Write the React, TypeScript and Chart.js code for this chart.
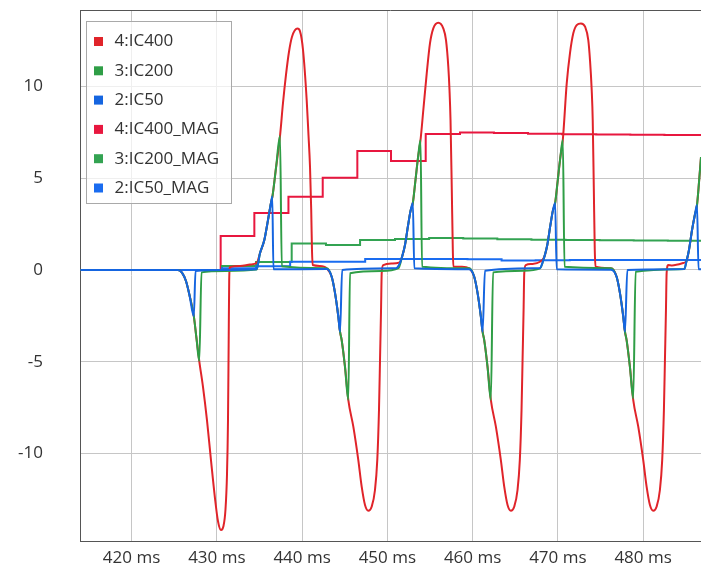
import React, { useEffect, useRef } from 'react';
import { Chart, registerables } from 'chart.js';

Chart.register(...registerables);

// Visible window of the capture (ms) and current range (A)
const X_MIN = 413.95;
const X_MAX = 486.79;
const Y_MIN = -14.77;
const Y_MAX = 14.17;

// Raw phase currents: [time ms, current A]
const ic400: [number, number][] = [
  [414.0, 0], [425.44, 0], [425.91, -0.14], [426.38, -0.6], [426.79, -1.36], [427.3, -2.51],
  [427.61, -3.71], [427.94, -4.96], [428.38, -6.38], [428.84, -8.17], [429.31, -10.35],
  [429.78, -12.43], [430.13, -13.68], [430.49, -14.17], [430.78, -13.95], [431.01, -13.08],
  [431.19, -11.17], [431.31, -8.17], [431.39, -3.81], [431.45, -0.54], [431.54, 0.16],
  [432.72, 0.22], [433.89, 0.3], [434.71, 0.41], [435.06, 0.91], [435.57, 1.63], [436.0, 2.72],
  [436.35, 3.65], [436.53, 4.03], [436.94, 5.56], [437.41, 7.3], [437.76, 9.1], [438.11, 10.63],
  [438.46, 11.88], [438.81, 12.7], [439.46, 13.16], [439.75, 13.02], [440.11, 11.99],
  [440.54, 9.26], [440.75, 7.36], [440.93, 5.61], [441.07, 3.27], [441.16, 1.09], [441.24, 0.27],
  [442.1, 0.22], [442.89, 0.09],
  [443.47, -0.37], [443.86, -1.25], [444.25, -2.54], [444.45, -3.36], [444.64, -3.81],
  [445.03, -5.27], [445.42, -7.08], [446.01, -8.54], [446.59, -10.35], [446.99, -11.81],
  [447.38, -12.81], [447.77, -13.12], [448.16, -12.9], [448.55, -11.99], [448.82, -10.35],
  [449.02, -7.63], [449.14, -4.9], [449.26, -2.18], [449.34, -0.16], [449.52, 0.27],
  [450.54, 0.35], [451.37, 0.4],
  [451.72, 0.71], [452.07, 1.36], [452.42, 2.4], [452.72, 3.22], [452.99, 3.65], [453.3, 4.9],
  [453.59, 6.1], [453.89, 7.08], [454.22, 8.72], [454.62, 10.72], [455.0, 12.35], [455.39, 13.17],
  [455.98, 13.48], [456.56, 13.17], [456.88, 12.53], [457.15, 11.08], [457.29, 9.81],
  [457.41, 8.17], [457.56, 4.36], [457.68, 1.09], [457.74, 0.18], [458.76, 0.18], [459.6, 0.09],
  [460.19, -0.37], [460.58, -1.25], [460.97, -2.54], [461.17, -3.36], [461.36, -3.81],
  [461.75, -5.27], [462.14, -7.08], [462.73, -8.54], [463.31, -10.35], [463.71, -11.81],
  [464.1, -12.81], [464.49, -13.12], [464.88, -12.9], [465.27, -11.99], [465.54, -10.35],
  [465.74, -7.63], [465.86, -4.9], [465.98, -2.18], [466.06, -0.16], [466.24, 0.27],
  [466.97, 0.33], [467.91, 0.45],
  [468.41, 0.71], [468.76, 1.36], [469.11, 2.4], [469.41, 3.22], [469.68, 3.65], [469.99, 4.9],
  [470.28, 6.1], [470.58, 7.08], [471.04, 10.17], [471.42, 11.81], [471.81, 12.9], [472.21, 13.35],
  [472.71, 13.44], [473.19, 13.26], [473.57, 12.53], [473.77, 11.44], [473.97, 9.81],
  [474.09, 8.17], [474.22, 4.36], [474.33, 1.09], [474.42, 0.18], [476.23, 0.1],
  [476.89, -0.37], [477.28, -1.25], [477.67, -2.54], [477.87, -3.36], [478.06, -3.81],
  [478.45, -5.27], [478.84, -7.08], [479.43, -8.54], [480.01, -10.35], [480.41, -11.81],
  [480.8, -12.81], [481.19, -13.12], [481.58, -12.9], [481.97, -11.99], [482.24, -10.35],
  [482.44, -7.63], [482.56, -4.9], [482.68, -2.18], [482.76, -0.16], [482.94, 0.27],
  [483.39, 0.25], [484.71, 0.38],
  [485.09, 0.49], [485.38, 1.09], [485.74, 2.18], [486.09, 3.05], [486.32, 3.54], [486.56, 4.8],
  [486.79, 6.16], [487.03, 7.36], [487.3, 8.7],
];

const ic200: [number, number][] = [
  [414.0, 0], [425.44, 0], [425.91, -0.14], [426.38, -0.6], [426.79, -1.36], [427.3, -2.51],
  [427.61, -3.71], [427.94, -4.96], [428.2, -0.13], [431.0, -0.05], [434.67, 0.02],
  [435.06, 0.91], [435.57, 1.63], [436.0, 2.72], [436.35, 3.65], [436.53, 4.03], [436.94, 5.56],
  [437.41, 7.3], [437.62, 0.2], [442.89, 0.09],
  [443.47, -0.37], [443.86, -1.25], [444.25, -2.54], [444.45, -3.36], [444.64, -3.81],
  [445.03, -5.27], [445.42, -7.08], [445.62, -0.18], [449.34, -0.05], [451.3, 0.1],
  [451.72, 0.71], [452.07, 1.36], [452.42, 2.4], [452.72, 3.22], [452.99, 3.65], [453.3, 4.9],
  [453.59, 6.1], [453.89, 7.08], [454.07, 0.18], [459.6, 0.09],
  [460.19, -0.37], [460.58, -1.25], [460.97, -2.54], [461.17, -3.36], [461.36, -3.81],
  [461.75, -5.27], [462.14, -7.08], [462.4, -0.13], [466.0, -0.04], [467.91, 0.09],
  [468.41, 0.71], [468.76, 1.36], [469.11, 2.4], [469.41, 3.22], [469.68, 3.65], [469.99, 4.9],
  [470.28, 6.1], [470.58, 7.08], [470.78, 0.18], [476.23, 0.1],
  [476.89, -0.37], [477.28, -1.25], [477.67, -2.54], [477.87, -3.36], [478.06, -3.81],
  [478.45, -5.27], [478.84, -7.0], [479.12, -0.09], [484.83, 0.05],
  [485.09, 0.49], [485.38, 1.09], [485.74, 2.18], [486.09, 3.05], [486.32, 3.54], [486.56, 4.8],
  [486.79, 6.16], [487.03, 7.36], [487.2, 7.5],
];

const ic50: [number, number][] = [
  [414.0, 0], [425.44, 0], [425.91, -0.14], [426.38, -0.6], [426.79, -1.36], [427.3, -2.51],
  [427.5, -0.05], [431.0, 0.0], [434.67, 0.04], [435.06, 0.91], [435.57, 1.63], [436.0, 2.72],
  [436.35, 3.65], [436.5, 4.0], [436.64, 0.04], [442.89, 0.05],
  [443.47, -0.37], [443.86, -1.25], [444.25, -2.54], [444.45, -3.36], [444.7, 0.0], [451.0, 0.09],
  [451.48, 0.38], [451.72, 0.71], [452.07, 1.36], [452.42, 2.4], [452.72, 3.22], [452.99, 3.65],
  [453.16, 0.09], [459.6, 0.04],
  [460.19, -0.37], [460.58, -1.25], [460.97, -2.54], [461.17, -3.36], [461.45, -0.04],
  [467.91, 0.1], [468.18, 0.38], [468.41, 0.71], [468.76, 1.36], [469.11, 2.4], [469.41, 3.22],
  [469.68, 3.65], [469.86, 0.04], [476.23, 0.02],
  [476.89, -0.37], [477.28, -1.25], [477.67, -2.54], [477.87, -3.36], [478.15, 0.0],
  [484.83, 0.05], [485.09, 0.49], [485.38, 1.09], [485.74, 2.18], [486.09, 3.05], [486.32, 3.54],
  [486.5, 0.04], [487.5, 0.04],
];

// Magnitude estimates, updated once per 4 ms window: [window start ms, value A]
const ic400Mag: [number, number][] = [
  [414.0, 0], [430.45, 1.85], [434.4, 3.11], [438.4, 3.99], [442.42, 5.03], [446.48, 6.49],
  [450.43, 5.94], [454.5, 7.41], [458.52, 7.5], [462.5, 7.46], [466.5, 7.42], [470.5, 7.4],
  [474.5, 7.38], [478.5, 7.37], [482.5, 7.36], [487.5, 7.36],
];

const ic200Mag: [number, number][] = [
  [414.0, 0], [430.6, 0.22], [434.6, 0.44], [438.78, 1.45], [442.8, 1.36], [446.8, 1.63],
  [450.9, 1.69], [454.9, 1.74], [458.9, 1.72], [462.9, 1.68], [466.9, 1.65], [470.9, 1.63],
  [474.9, 1.62], [478.9, 1.61], [482.9, 1.6], [487.5, 1.6],
];

const ic50Mag: [number, number][] = [
  [414.0, 0], [430.6, 0.1], [434.6, 0.2], [438.6, 0.45], [442.6, 0.45], [447.4, 0.6],
  [451.4, 0.6], [455.4, 0.6], [459.4, 0.58], [463.4, 0.52], [467.4, 0.53], [471.4, 0.54],
  [475.4, 0.54], [479.4, 0.54], [483.4, 0.54], [487.5, 0.54],
];

const SERIES_LABELS = ['4:IC400', '3:IC200', '2:IC50', '4:IC400_MAG', '3:IC200_MAG', '2:IC50_MAG'];
const SERIES_COLORS = ['#e0242a', '#2f9e46', '#1565e0', '#e8173f', '#33a352', '#1a6cf0'];

const FONT = '"Open Sans", "Noto Sans", sans-serif';

const toPoints = (rows: [number, number][]) => rows.map(([x, y]) => ({ x, y }));

// Framed, translucent legend inside the plot area
const boxLegend = {
  id: 'boxLegend',
  afterDraw(chart: any) {
    const { ctx, chartArea } = chart;
    const x0 = chartArea.left + 6.5;
    const y0 = chartArea.top + 11.5;
    const w = 145;
    const h = 182;
    ctx.save();
    ctx.fillStyle = 'rgba(255,255,255,0.72)';
    ctx.fillRect(x0, y0, w, h);
    ctx.strokeStyle = '#a9a9a9';
    ctx.lineWidth = 1;
    ctx.strokeRect(x0, y0, w, h);
    ctx.font = `17px ${FONT}`;
    ctx.textBaseline = 'middle';
    ctx.textAlign = 'left';
    chart.data.datasets.forEach((ds: any, i: number) => {
      const cy = y0 + 20 + i * 29.3;
      ctx.fillStyle = ds.borderColor;
      ctx.fillRect(x0 + 7.5, cy - 4.5, 9, 9);
      ctx.fillStyle = '#333333';
      ctx.fillText(ds.label, x0 + 28, cy);
    });
    ctx.restore();
  },
};

// Dark frame line along the top of the plot area
const topFrame = {
  id: 'topFrame',
  afterDraw(chart: any) {
    const { ctx, chartArea } = chart;
    ctx.save();
    ctx.strokeStyle = '#555555';
    ctx.lineWidth = 1;
    ctx.beginPath();
    ctx.moveTo(chartArea.left, chartArea.top + 0.5);
    ctx.lineTo(chartArea.right, chartArea.top + 0.5);
    ctx.stroke();
    ctx.restore();
  },
};

export default function App() {
  const canvasRef = useRef<HTMLCanvasElement | null>(null);

  useEffect(() => {
    if (!canvasRef.current) return;
    const rows = [ic400, ic200, ic50, ic400Mag, ic200Mag, ic50Mag];
    const drawOrder = [2, 1, 0, 5, 4, 3];
    const datasets = rows.map((r, i) => ({
      label: SERIES_LABELS[i],
      data: toPoints(r),
      borderColor: SERIES_COLORS[i],
      backgroundColor: SERIES_COLORS[i],
      borderWidth: 2,
      pointRadius: 0,
      fill: false,
      order: drawOrder[i],
      stepped: i >= 3 ? ('before' as const) : false,
      cubicInterpolationMode: 'monotone' as const,
    }));

    const chart = new Chart(canvasRef.current, {
      type: 'line',
      data: { datasets },
      options: {
        animation: false,
        responsive: false,
        maintainAspectRatio: false,
        parsing: false,
        layout: { autoPadding: false, padding: { top: 10, right: 0, bottom: 0, left: 0 } },
        plugins: { legend: { display: false }, tooltip: { enabled: false } },
        scales: {
          x: {
            type: 'linear',
            min: X_MIN,
            max: X_MAX,
            afterFit: (s: any) => {
              s.height = 29;
              s.paddingLeft = 0;
              s.paddingRight = 0;
            },
            grid: { color: '#c6c6c6', drawTicks: false },
            border: { color: '#555555', width: 1 },
            ticks: {
              stepSize: 10,
              includeBounds: false,
              padding: 7,
              color: '#333333',
              maxRotation: 0,
              autoSkip: false,
              font: { family: FONT, size: 17 },
              callback: (v: any) => `${v} ms`,
            },
          },
          y: {
            type: 'linear',
            min: Y_MIN,
            max: Y_MAX,
            afterFit: (s: any) => {
              s.width = 80;
              s.paddingTop = 0;
              s.paddingBottom = 0;
            },
            grid: { color: '#c6c6c6', drawTicks: false },
            border: { color: '#555555', width: 1 },
            ticks: {
              stepSize: 5,
              includeBounds: false,
              padding: 37,
              color: '#333333',
              font: { family: FONT, size: 17 },
            },
          },
        },
      },
      plugins: [topFrame, boxLegend],
    });
    return () => chart.destroy();
  }, []);

  return (
    <div style={{ position: 'fixed', left: 0, top: 0, width: 701, height: 570, background: '#ffffff' }}>
      <canvas ref={canvasRef} width={701} height={570} />
    </div>
  );
}
